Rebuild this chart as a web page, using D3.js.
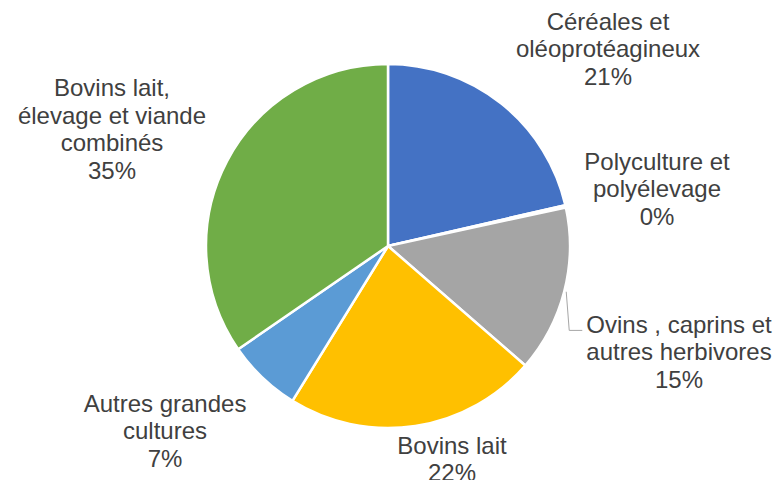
<!DOCTYPE html>
<html>
<head>
<meta charset="utf-8">
<script src="https://cdn.jsdelivr.net/npm/d3@7"></script>
<style>
  html, body { margin: 0; padding: 0; background: #fff; }
  svg { display: block; }
  text { font-family: "Liberation Sans", Arial, sans-serif; fill: #404040; }
</style>
</head>
<body>
<svg id="chart" width="776" height="480"></svg>
<script>
// Répartition des exploitations par orientation technique
const categories = [
  ["Céréales et", "oléoprotéagineux"],
  ["Polyculture et", "polyélevage"],
  ["Ovins , caprins et", "autres herbivores"],
  ["Bovins lait"],
  ["Autres grandes", "cultures"],
  ["Bovins lait,", "élevage et viande", "combinés"]
];
const values = [21.4, 0.2, 14.8, 22.4, 6.6, 34.6];
const colors = ["#4472C4", "#ED7D31", "#A5A5A5", "#FFC000", "#5B9BD5", "#70AD47"];

// Label block centres relative to the pie centre (layout only)
const labelOffsets = [[220, -197], [269, -57], [291, 106], [64, 213], [-223, 185], [-276, -117]];

const width = 776, height = 480;
const cx = 388, cy = 246, radius = 182;
const fontSize = 24, lineH = 27.6;

const svg = d3.select("#chart");
const g = svg.append("g").attr("transform", `translate(${cx},${cy})`);

const total = d3.sum(values);
const pct = d3.format(".0%");

const pie = d3.pie().sort(null).value(d => d.value);
const data = pie(values.map((v, i) => ({ value: v, lines: categories[i], color: colors[i], off: labelOffsets[i] })));

const arc = d3.arc().innerRadius(0).outerRadius(radius);

g.selectAll("path.slice")
  .data(data)
  .join("path")
  .attr("class", "slice")
  .attr("d", arc)
  .attr("fill", d => d.data.color)
  .attr("stroke", "#fff")
  .attr("stroke-width", 2.5)
  .attr("stroke-linejoin", "round");

// Labels
const labels = g.selectAll("g.label")
  .data(data)
  .join("g")
  .attr("class", "label")
  .attr("transform", d => `translate(${d.data.off[0]},${d.data.off[1]})`);

labels.each(function(d) {
  const lines = d.data.lines.concat([pct(d.data.value / total)]);
  const n = lines.length;
  const t = d3.select(this).append("text")
    .attr("text-anchor", "middle")
    .style("font-size", fontSize + "px");
  lines.forEach((s, k) => {
    t.append("tspan")
      .attr("x", 0)
      .attr("y", (k - (n - 1) / 2) * lineH)
      .attr("dy", "0.35em")
      .text(s);
  });
  d.box = t.node().getBBox();
});

// Leader line for the label placed away from its slice
const leader = data[2];
{
  const mid = (leader.startAngle + leader.endAngle) / 2;
  const r0 = radius + 2;
  const x0 = Math.sin(mid) * r0, y0 = -Math.cos(mid) * r0;
  const lx = leader.data.off[0] + leader.box.x - 4;
  const ly = leader.data.off[1] - lineH + 6;
  g.append("path")
    .attr("d", `M${x0},${y0} L${x0 + 3},${ly} L${lx},${ly}`)
    .attr("fill", "none")
    .attr("stroke", "#A6A6A6")
    .attr("stroke-width", 1);
}
</script>
</body>
</html>
